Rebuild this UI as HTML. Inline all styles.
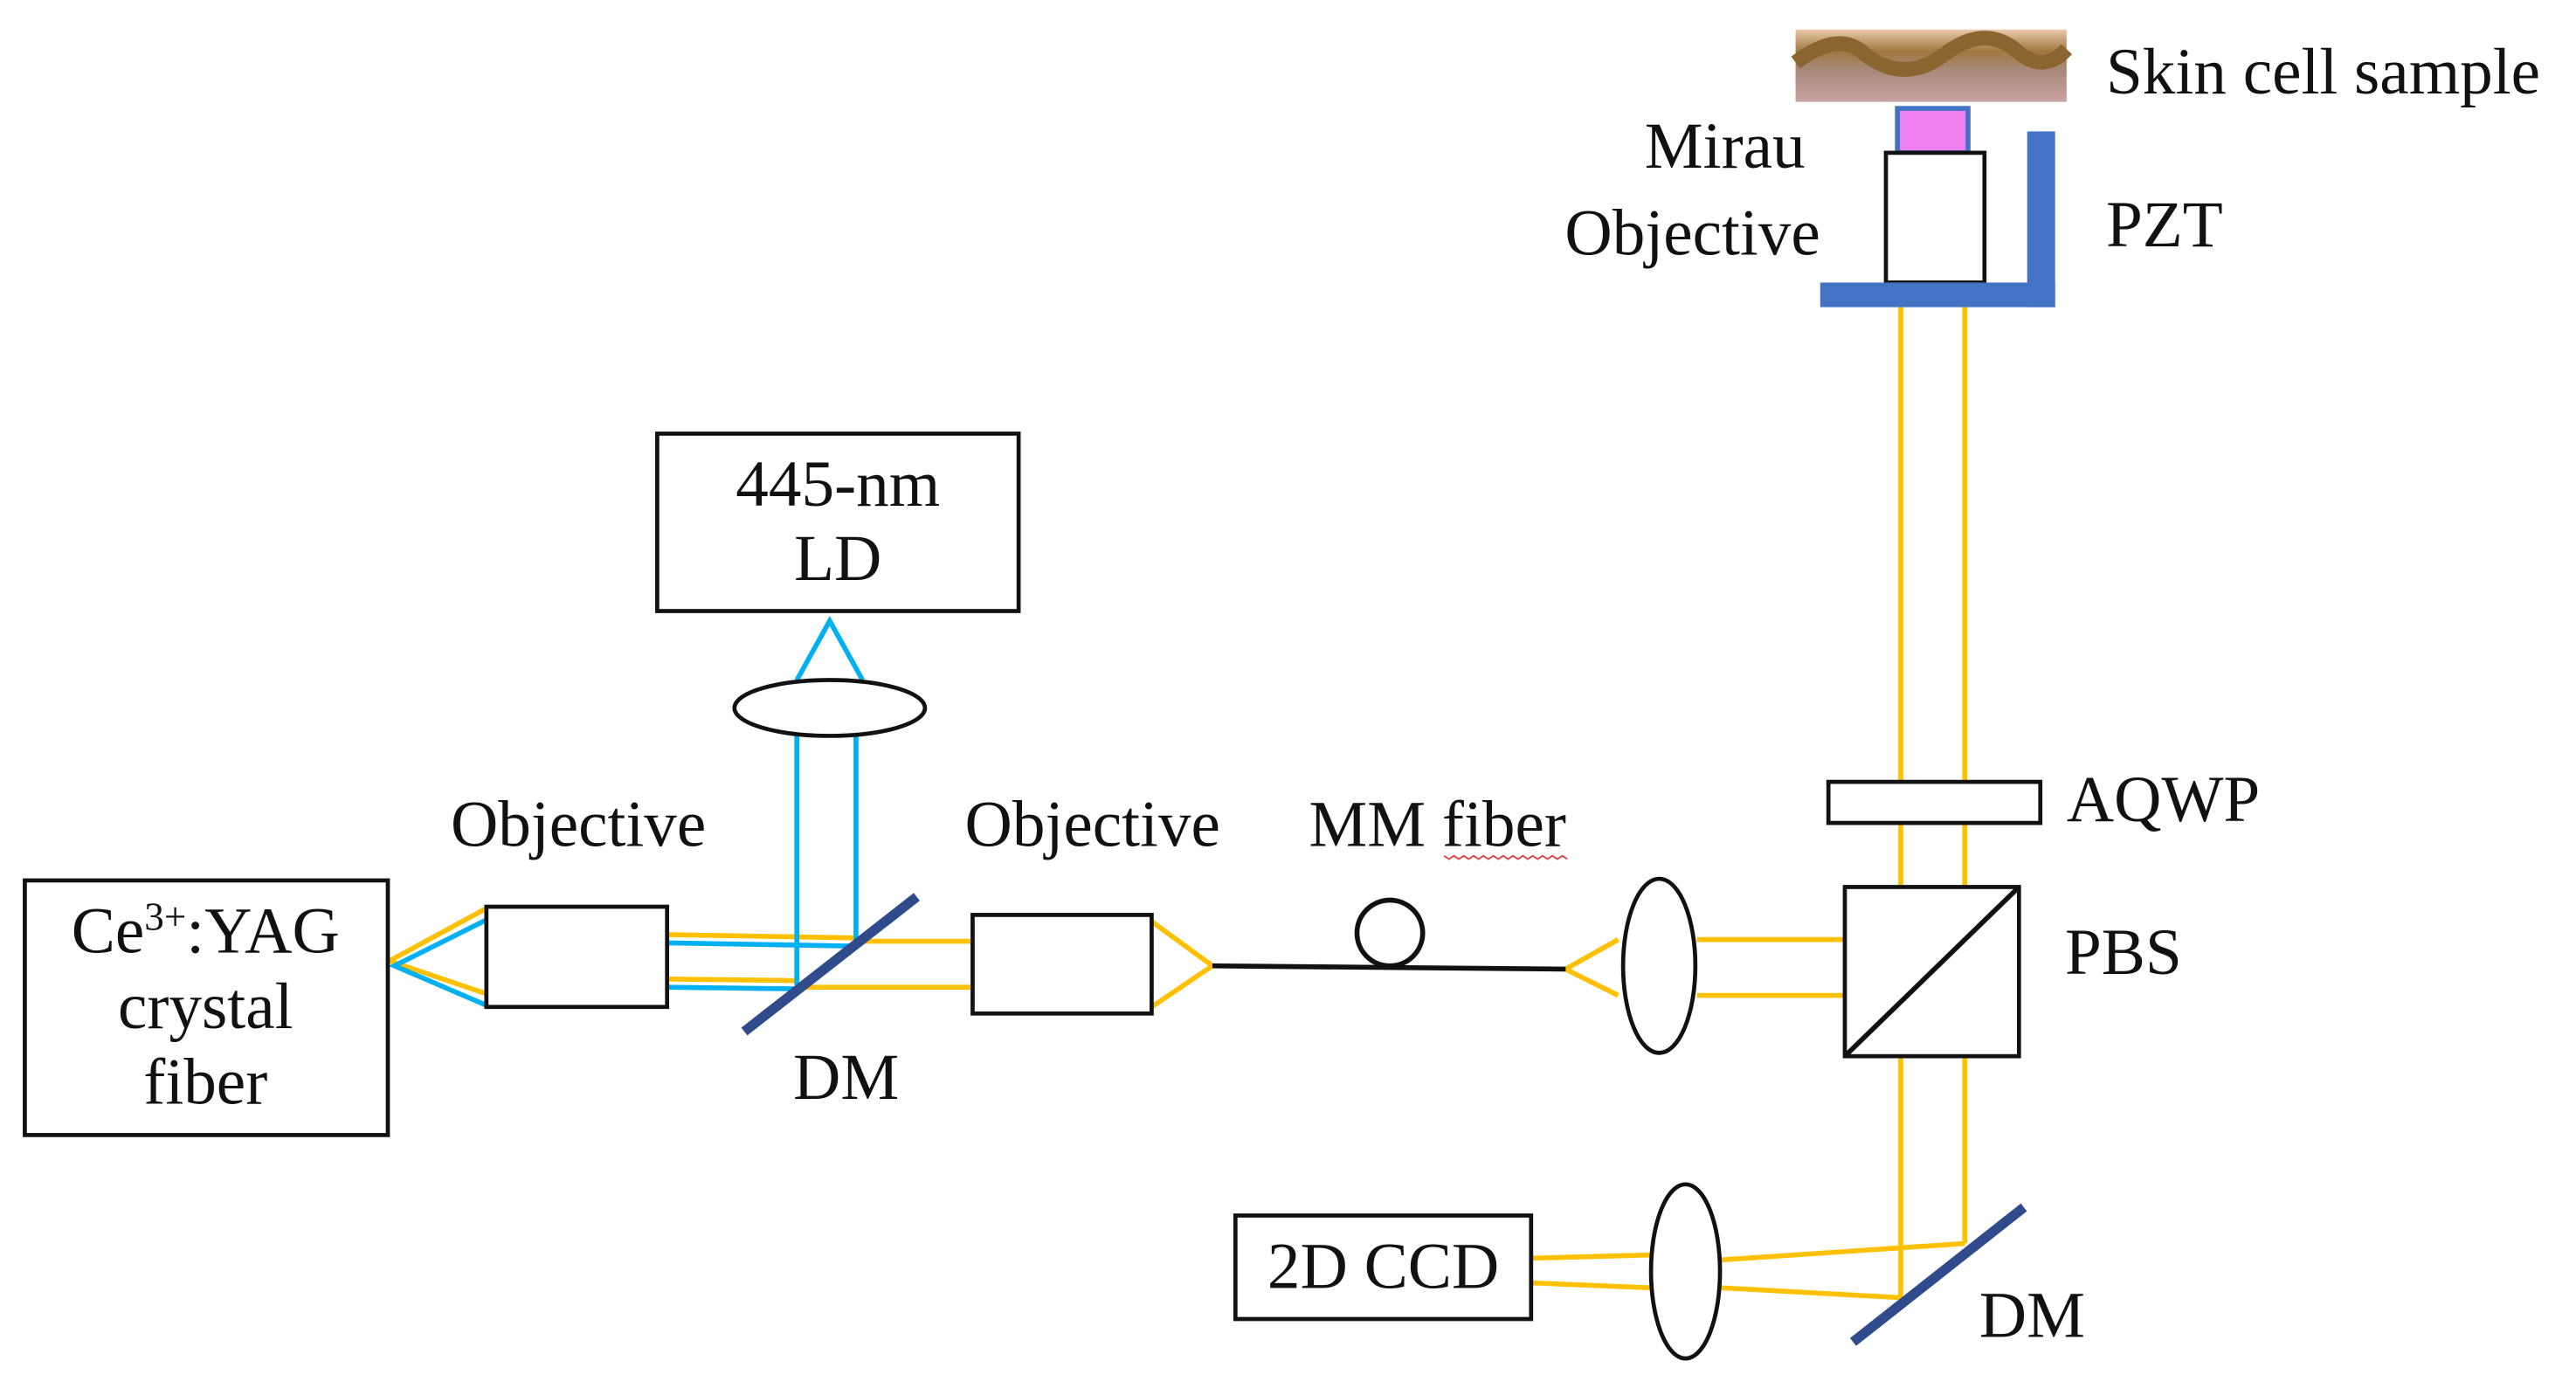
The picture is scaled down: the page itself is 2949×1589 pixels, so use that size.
<!DOCTYPE html>
<html><head><meta charset="utf-8"><style>
html,body{margin:0;padding:0;background:#fff;}
svg{display:block;}
text{font-family:"Liberation Serif",serif;font-size:40px;fill:#111;}
</style></head><body>
<svg width="2949" height="1589" viewBox="0 0 1568 845" xmlns="http://www.w3.org/2000/svg">
<defs>
<linearGradient id="skin" x1="0" y1="0" x2="0" y2="1">
<stop offset="0" stop-color="#e8c8a8"/><stop offset="0.3" stop-color="#a07840"/><stop offset="0.55" stop-color="#a88878"/><stop offset="1" stop-color="#c8a0a0"/>
</linearGradient>
</defs>
<g stroke="#FFC000" stroke-width="3" fill="none">
<line x1="1157" y1="187" x2="1157" y2="790"/>
<line x1="1196" y1="187" x2="1196" y2="757"/>
<polyline points="1196,757 1048,767"/>
<polyline points="1157,790 1048,784"/>
<polyline points="1005,764 932,766"/>
<polyline points="1005,784 932,781"/>
<line x1="1033" y1="572" x2="1123" y2="572"/>
<line x1="1033" y1="606" x2="1123" y2="606"/>
<polyline points="985,572 953,590 985,606"/>
<polyline points="701,561 738,588 701,613"/>
<line x1="520" y1="573" x2="592" y2="573"/>
<line x1="485" y1="601" x2="592" y2="601"/>
<line x1="406" y1="569" x2="521" y2="571"/>
<line x1="406" y1="596" x2="485" y2="597"/>
<polyline points="296,553 237,585 296,605"/>
</g>
<g stroke="#00B0F0" stroke-width="3" fill="none">
<line x1="406" y1="574" x2="521" y2="576"/>
<line x1="406" y1="601" x2="485" y2="602"/>
<polyline points="296,560 240,588 296,612"/>
<line x1="485" y1="448" x2="485" y2="600"/>
<line x1="521" y1="448" x2="521" y2="573"/>
<polyline points="485,414 505,378 525,414"/>
</g>
<g stroke="#2F4B8C" stroke-width="6">
<line x1="453" y1="628" x2="558" y2="546"/>
<line x1="1128" y1="817" x2="1232" y2="735"/>
</g>
<g stroke="#111" stroke-width="2.5" fill="#fff">
<rect x="400" y="264" width="220" height="108"/>
<rect x="15" y="536" width="221" height="155"/>
<rect x="296" y="552" width="110" height="61"/>
<rect x="592" y="557" width="109" height="60"/>
<rect x="752" y="740" width="180" height="63"/>
<rect x="1113" y="476" width="129" height="25"/>
<rect x="1123" y="540" width="106" height="103"/>
<ellipse cx="505" cy="431" rx="58" ry="17"/>
<ellipse cx="1010" cy="588" rx="22" ry="53"/>
<ellipse cx="1026" cy="774" rx="21" ry="53"/>
</g>
<g stroke="#111" stroke-width="3" fill="none">
<line x1="1123" y1="643" x2="1229" y2="540"/>
<line x1="738" y1="588" x2="953" y2="590"/>
<circle cx="846" cy="568" r="20"/>
</g>
<rect x="1093" y="18" width="165" height="44" fill="url(#skin)"/>
<path d="M1093,38 Q1120,18 1135,33 Q1160,52 1185,32 Q1210,14 1230,33 Q1245,44 1258,30" stroke="#8a6530" stroke-width="9" fill="none"/>
<rect x="1155" y="66" width="43" height="27" fill="#F080F0" stroke="#4472C4" stroke-width="3"/>
<rect x="1148" y="93" width="60" height="79" fill="#fff" stroke="#111" stroke-width="2.5"/>
<rect x="1108" y="172" width="143" height="15" fill="#4472C4"/>
<rect x="1234" y="80" width="17" height="107" fill="#4472C4"/>
<text x="510" y="308" text-anchor="middle">445-nm</text>
<text x="510" y="353" text-anchor="middle">LD</text>
<text x="125" y="580" text-anchor="middle">Ce<tspan font-size="24" dy="-14">3+</tspan><tspan dy="14">:YAG</tspan></text>
<text x="125" y="626" text-anchor="middle">crystal</text>
<text x="125" y="672" text-anchor="middle">fiber</text>
<text x="352" y="515" text-anchor="middle">Objective</text>
<text x="665" y="515" text-anchor="middle">Objective</text>
<text x="875" y="515" text-anchor="middle">MM fiber</text>
<path d="M879,521 l3,2 3,-2 3,2 3,-2 3,2 3,-2 3,2 3,-2 3,2 3,-2 3,2 3,-2 3,2 3,-2 3,2 3,-2 3,2 3,-2 3,2 3,-2 3,2 3,-2 3,2 3,-2 3,2" stroke="#e04040" stroke-width="1" fill="none"/>
<text x="515" y="669" text-anchor="middle">DM</text>
<text x="1237" y="814" text-anchor="middle">DM</text>
<text x="842" y="784" text-anchor="middle">2D CCD</text>
<text x="1258" y="500">AQWP</text>
<text x="1257" y="593">PBS</text>
<text x="1282" y="150">PZT</text>
<text x="1282" y="57">Skin cell sample</text>
<text x="1050" y="102" text-anchor="middle">Mirau</text>
<text x="1108" y="155" text-anchor="end">Objective</text>
</svg>
</body></html>
